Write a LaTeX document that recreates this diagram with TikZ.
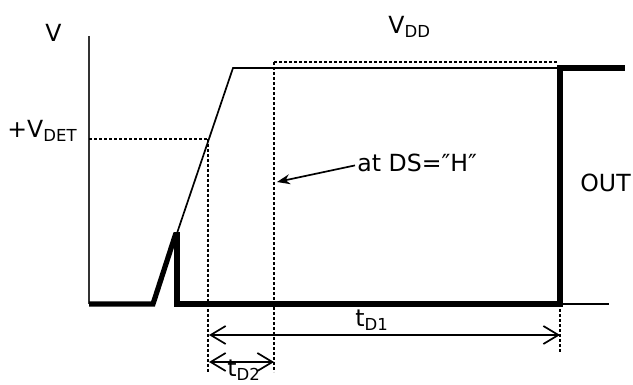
\documentclass[tikz,border=0pt]{standalone}
\usepackage{fontspec}
\setmainfont{DejaVu Sans}
\usetikzlibrary{arrows.meta,positioning}

\tikzset{
  sig/.style={line width=0.85pt},
  outsig/.style={line width=2.6pt},
  guide/.style={line width=1.3pt, dash pattern=on 1.3pt off 1.2pt},
  dimarrow/.style={line width=0.85pt, {Straight Barb[length=7.5pt,width=9pt]}-{Straight Barb[length=7.5pt,width=9pt]}},
  lbl/.style={inner sep=0pt, font=\fontsize{11.8}{14}\selectfont},
}

\begin{document}
\begin{tikzpicture}[x=0.5pt, y=-0.5pt]
  \useasboundingbox (0,0) rectangle (633,385);

  % Axis
    \coordinate (origin) at (89,304);
    \coordinate (vtop) at (89,36);
    \draw[line width=1pt, black!80] (vtop) -- (origin);
    \node[lbl, anchor=base west] (vlabel) at (45,42) {V};

    % Key points of the supply ramp
    \coordinate (rampstart) at (153,304);
    \coordinate (rampknee) at (176,233);
    \coordinate (rampdet) at (208,139);
    \coordinate (ramptop) at (233,68);
    \coordinate (flatend) at (560,68);
    \coordinate (outtop) at (625,68);
    \coordinate (outbase) at (560,304);
    \coordinate (baseend) at (609,304);

    % Supply voltage (thin)
    \draw[sig] (rampstart) -- (ramptop) -- (flatend);
    \draw[sig] (outbase) -- (baseend);

    % Output (thick)
    \draw[outsig] (origin) -- (rampstart) -- (rampknee);
    \draw[outsig] (177,232) -- (177,304) -- (outbase) -- (flatend) -- (outtop);

    % Detect level
    \coordinate (detaxis) at (89,139);
    \draw[guide] (detaxis) -- (rampdet);
    \node[lbl, anchor=base east] (vdet) at (78,138) {+V\textsubscript{DET}};

    % VDD level
    \coordinate (dsup) at (274,62);
    \coordinate (vddend) at (557,62);
    \draw[guide] (dsup) -- (vddend);
    \node[lbl, anchor=base west] (vdd) at (388,34) {V\textsubscript{DD}};

    % Vertical guides
    \coordinate (detlow) at (208,372);
    \coordinate (dslow) at (274,372);
    \coordinate (outlow) at (560,352);
    \draw[guide] (rampdet) -- (detlow);
    \draw[guide] (dsup) -- (dslow);
    \draw[guide] (outbase) -- (outlow);

    % DS pointer
    \node[lbl, anchor=base west] (dsnote) at (357,172) {at DS=″H″};
    \coordinate (dspoint) at (277,182);
    \draw[sig, -{Stealth[length=6.5pt,width=5pt]}] (dsnote.west) ++(-2,2) -- (dspoint);

    \node[lbl, anchor=base west] (outlabel) at (580,192) {OUT};

    % Delay times
    \coordinate (d1a) at (209,335);
    \coordinate (d1b) at (560,335);
    \draw[dimarrow] (d1a) -- (d1b);
    \node[lbl, anchor=base west] (td1) at (355,327) {t\textsubscript{D1}};

    \coordinate (d2a) at (209,362);
    \coordinate (d2b) at (274,362);
    \draw[dimarrow] (d2a) -- (d2b);
    \node[lbl, anchor=base west] (td2) at (227,377) {t\textsubscript{D2}};

\end{tikzpicture}
\end{document}
